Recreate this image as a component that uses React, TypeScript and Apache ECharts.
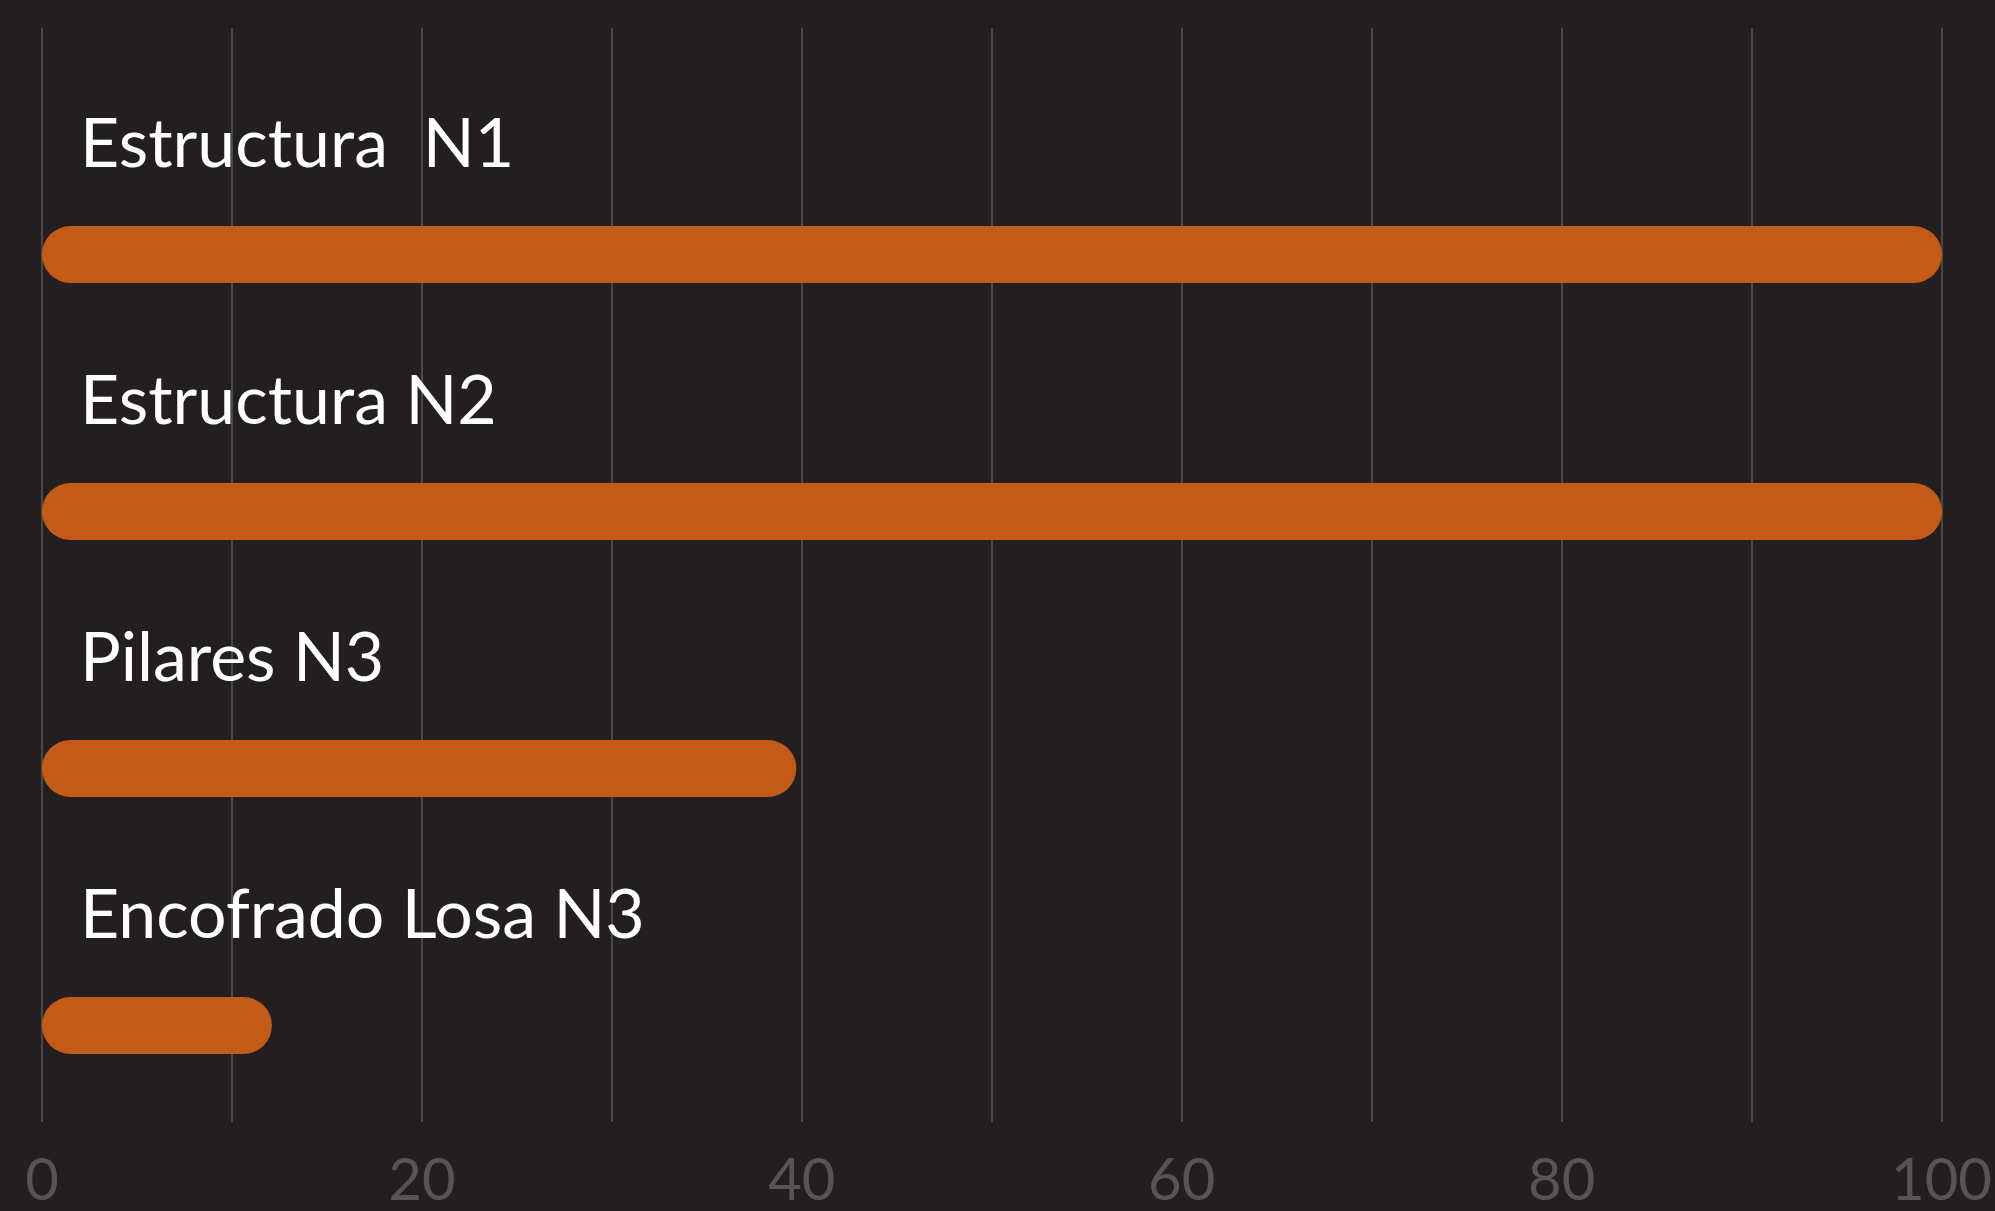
import React, { useEffect, useRef } from "react";
import * as echarts from "echarts";

const categories = ["Estructura  N1", "Estructura N2", "Pilares N3", "Encofrado Losa N3"];
const values = [100, 100, 39.7, 12.1];
const tickLabels = [0, 20, 40, 60, 80, 100];

const BG = "#231f20";
const BAR = "#c45a17";

export default function App() {
  const ref = useRef<HTMLDivElement>(null);
  useEffect(() => {
    if (!ref.current) return;
    const chart = echarts.init(ref.current, null, { renderer: "svg" });
    chart.setOption({
      animation: false,
      backgroundColor: BG,
      grid: [
        { left: 42, right: 53, top: 28, bottom: 89 },
        { left: 42, right: 53, top: 126, bottom: 57 },
      ],
      xAxis: [
        {
          gridIndex: 0,
          type: "value",
          min: 0,
          max: 100,
          interval: 10,
          axisLine: { show: false },
          axisTick: { show: false },
          splitLine: { show: true, lineStyle: { color: "#4b4849", width: 2 } },
          axisLabel: {
            color: "#575455",
            fontFamily: "Lato",
            fontSize: 58,
            lineHeight: 44,
            margin: 33,
            formatter: (v: number) => (tickLabels.includes(v) ? String(v) : ""),
          },
        },
        {
          gridIndex: 1,
          type: "value",
          min: 0,
          max: 100,
          show: false,
        },
      ],
      yAxis: [
        { gridIndex: 0, type: "category", data: categories, show: false },
        { gridIndex: 1, type: "category", data: categories, inverse: true, show: false },
      ],
      series: [
        {
          type: "bar",
          xAxisIndex: 1,
          yAxisIndex: 1,
          data: values,
          barWidth: 57,
          itemStyle: { color: BAR, borderRadius: 28.5 },
          label: {
            show: true,
            position: [38, -86],
            align: "left",
            verticalAlign: "middle",
            color: "#ffffff",
            fontFamily: "Lato",
            fontSize: 68,
            formatter: (p: any) => categories[p.dataIndex],
          },
        },
      ],
    });
    return () => chart.dispose();
  }, []);
  return (
    <div
      ref={ref}
      style={{ position: "fixed", left: 0, top: 0, width: 1995, height: 1211 }}
    />
  );
}
